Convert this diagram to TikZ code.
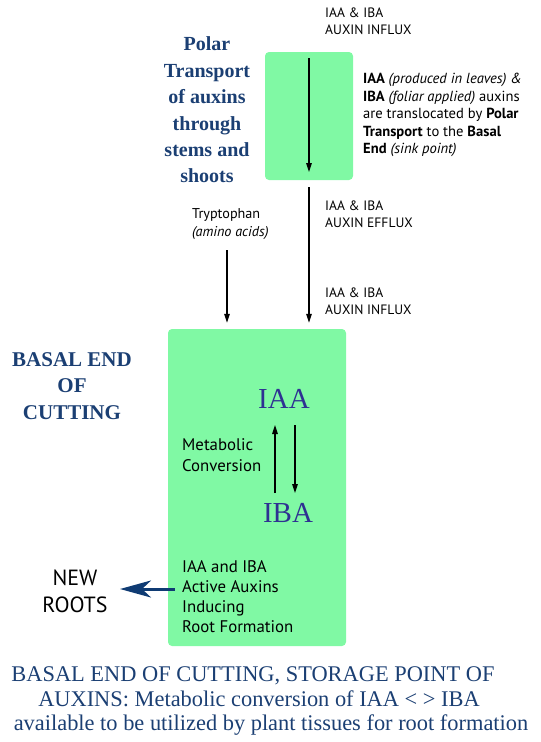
\documentclass[tikz,border=0pt]{standalone}
\usepackage{fontspec}
\setmainfont{Liberation Serif}
\setsansfont{PT Sans}
\usetikzlibrary{arrows.meta}
\definecolor{boxgreen}{HTML}{80F9A4}
\definecolor{titleblue}{HTML}{1B3F73}
\definecolor{auxblue}{HTML}{2E3192}
\definecolor{arrowblue}{HTML}{0F3B73}
\tikzset{
  greenbox/.style={fill=boxgreen, draw=none, rounded corners=4pt, inner sep=0pt},
  small/.style={font=\sffamily\fontsize{13.6}{17}\selectfont, align=left, inner sep=0pt, anchor=west},
  boxtext/.style={font=\sffamily\fontsize{16.8}{21}\selectfont, align=left, inner sep=0pt, anchor=west},
  title/.style={font=\rmfamily\bfseries\fontsize{20}{26.4}\selectfont, text=titleblue, align=center, inner sep=0pt},
  auxin/.style={font=\rmfamily\fontsize{29}{30}\selectfont, text=auxblue, inner sep=0pt},
  flow/.style={line width=1.2pt, -{Triangle[length=9pt,width=5.5pt]}},
}
\begin{document}
\begin{tikzpicture}[x=1pt,y=-1pt]
\useasboundingbox (0,0) rectangle (541,742);
% boxes
\node[greenbox, minimum width=88pt, minimum height=128pt] (topbox) at (309,116) {};
\node[greenbox, minimum width=178pt, minimum height=317pt] (bigbox) at (257,487.5) {};
% top texts
\node[small] (influxA) at (325,21.5) {IAA \& IBA\\AUXIN INFLUX};
\node[small, font=\sffamily\fontsize{14.6}{17.5}\selectfont] (desc) at (363,115) {\textbf{IAA} \textit{(produced in leaves) \&}\\\textbf{IBA} \textit{(foliar applied)} auxins\\are translocated by \textbf{Polar}\\\textbf{Transport} to the \textbf{Basal}\\\textbf{End} \textit{(sink point)}};
\node[title] (polar) at (207,110) {Polar\\Transport\\of auxins\\through\\stems and\\shoots};
\node[small] (efflux) at (325,214.5) {IAA \& IBA\\AUXIN EFFLUX};
\node[small] (influxB) at (325,301) {IAA \& IBA\\AUXIN INFLUX};
\node[small, font=\sffamily\fontsize{14.2}{18}\selectfont] (tryp) at (192,224) {Tryptophan\\\textit{(amino acids)}};
% basal end
\node[title, font=\rmfamily\bfseries\fontsize{21}{26.5}\selectfont] (basal) at (72,386) {BASAL END\\OF\\CUTTING};
\node[auxin] (iaa) at (284,399) {IAA};
\node[auxin] (iba) at (288,513) {IBA};
\node[boxtext] (metab) at (182,455) {Metabolic\\Conversion};
\node[boxtext, font=\sffamily\fontsize{16.8}{20}\selectfont] (active) at (182,597) {IAA and IBA\\Active Auxins\\Inducing\\Root Formation};
\node[font=\sffamily\fontsize{22}{27}\selectfont, align=center, inner sep=0pt] (roots) at (75,591) {NEW\\ROOTS};
\node[font=\rmfamily\fontsize{22.4}{24.5}\selectfont, text=titleblue, align=center, inner sep=0pt] (caption) at (271,701) {BASAL END OF CUTTING, STORAGE POINT OF\hspace*{36pt}\mbox{}\\AUXINS: Metabolic conversion of IAA < > IBA\hspace*{24pt}\mbox{}\\available to be utilized by plant tissues for root formation};
% connectors
\coordinate (tA) at (309,58);
\coordinate (tB) at (309,172);
\draw[flow] (tA) -- (tB);
\coordinate (eA) at (309,187);
\draw[flow] (eA) -- ([yshift=6pt]eA |- bigbox.north);
\coordinate (trA) at (227,250);
\draw[flow] (trA) -- ([yshift=6pt]trA |- bigbox.north);
\draw[flow] (275,493) -- (275,425);
\draw[flow] (295,425) -- (295,493);
\coordinate (rA) at (175,589);
\coordinate (rB) at (120,589);
\draw[line width=3pt, draw=arrowblue, -{Stealth[length=31pt,width=17pt,inset=9pt]}] (rA) -- (rB);
\end{tikzpicture}
\end{document}
